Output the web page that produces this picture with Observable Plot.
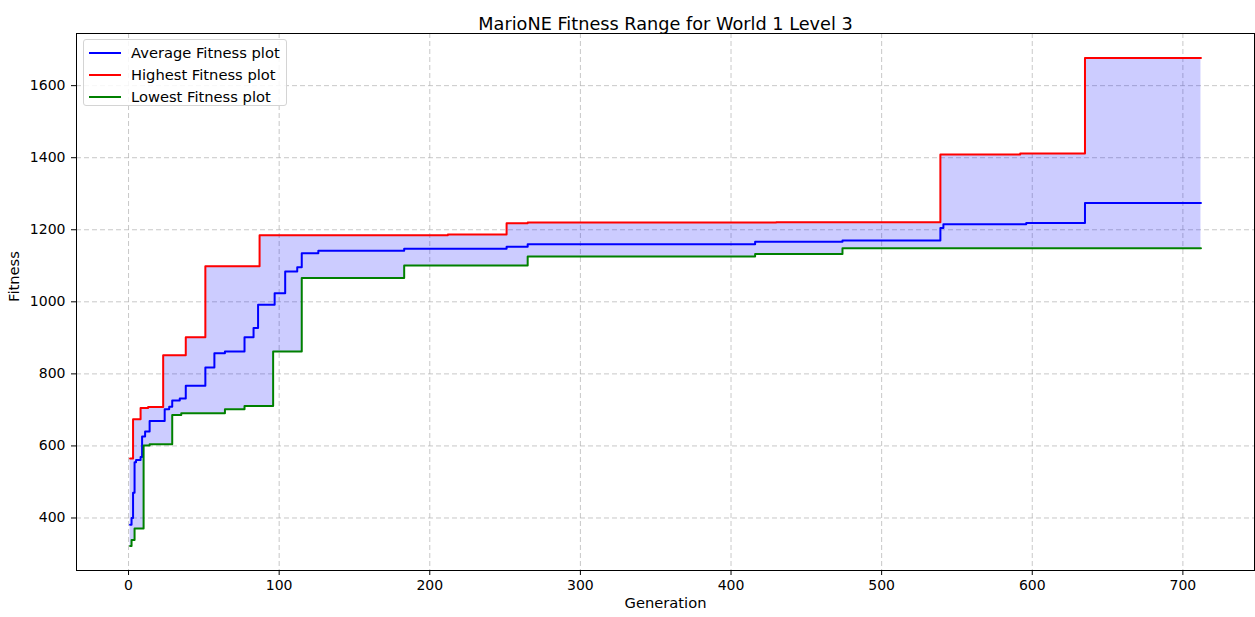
<!DOCTYPE html>
<html><head><meta charset="utf-8">
<script src="https://cdn.jsdelivr.net/npm/d3@7"></script>
<script src="https://cdn.jsdelivr.net/npm/@observablehq/plot@0.6"></script>
<style>
body{margin:0;background:#fff;font-family:"DejaVu Sans",sans-serif;}
#wrap{position:relative;width:1255px;height:617px;}
#legend{position:absolute;left:83px;top:39px;width:202px;height:65px;border:1px solid #d4d4d4;border-radius:3px;background:rgba(255,255,255,0.85);font-size:14.7px;color:#000;}
.row{position:absolute;left:0;height:18px;line-height:18px;}
.sw{position:absolute;left:5px;top:8px;width:32px;height:2px;}
.lb{position:absolute;left:47px;top:0;white-space:nowrap;}
</style></head>
<body><div id="wrap"></div>
<script>
const title = "MarioNE Fitness Range for World 1 Level 3";
const xLabel = "Generation";
const yLabel = "Fitness";
const xTicks = [0,100,200,300,400,500,600,700];
const yTicks = [400,600,800,1000,1200,1400,1600];
const seriesNames = ["Average Fitness plot","Highest Fitness plot","Lowest Fitness plot"];
const seriesColors = ["blue","red","green"];

// change points (generation where a new value starts)
const avgGen = [1,2,3,4,5,8,9,11,14,24,27,29,34,38,51,57,64,77,83,86,97,104,112,115,126,183,251,265,416,474,539,541,596,635,712];
const avgVal = [381,400,470,555,561,569,626,640,669,702,709,726,732,767,818,857,862,902,927,992,1024,1084,1096,1135,1142,1147,1153,1160,1167,1170,1205,1215,1219,1274,1274];
const maxGen = [1,3,8,13,23,38,51,87,212,251,265,430,539,592,635,712];
const maxVal = [565,674,705,708,852,902,1099,1185,1187,1218,1220,1221,1409,1412,1677,1677];
const minGen = [1,2,4,10,14,29,35,64,77,96,115,183,265,416,474,712];
const minVal = [322,339,371,601,605,686,691,702,711,862,1066,1101,1126,1133,1149,1149];

const toRows = (g,v) => g.map((x,i)=>({g:x,v:v[i]}));
const avg = toRows(avgGen, avgVal), hi = toRows(maxGen, maxVal), lo = toRows(minGen, minVal);
const stepAt = (gens, vals, x) => { let k = d3.bisectRight(gens, x) - 1; return vals[Math.max(0,k)]; };
const allGens = Array.from(new Set([...maxGen, ...minGen])).sort((a,b)=>a-b);
const band = allGens.map(x => ({g:x, lo:stepAt(minGen,minVal,x), hi:stepAt(maxGen,maxVal,x)}));

const gridStyle = {stroke:"#b0b0b0", strokeOpacity:0.7, strokeDasharray:"5,3", strokeWidth:1};
const chart = Plot.plot({
  width:1255, height:617,
  marginLeft:76, marginRight:1, marginTop:33, marginBottom:47,
  x:{domain:[-34.55,747.55]},
  y:{domain:[254.25,1744.75]},
  style:{fontFamily:"DejaVu Sans, sans-serif", fontSize:"14px", color:"black", background:"white"},
  marks:[
    Plot.gridX(xTicks, gridStyle),
    Plot.gridY(yTicks, gridStyle),
    Plot.areaY(band, {x:"g", y1:"lo", y2:"hi", fill:"blue", fillOpacity:0.2, curve:"step-after"}),
    Plot.line(avg, {x:"g", y:"v", stroke:seriesColors[0], strokeWidth:2, curve:"step-after"}),
    Plot.line(hi, {x:"g", y:"v", stroke:seriesColors[1], strokeWidth:2, curve:"step-after"}),
    Plot.line(lo, {x:"g", y:"v", stroke:seriesColors[2], strokeWidth:2, curve:"step-after"}),
    Plot.frame({stroke:"black", strokeWidth:1}),
    Plot.axisX(xTicks, {tickSize:5, tickPadding:5, fontSize:14, tickFormat:"d", label:null}),
    Plot.axisY(yTicks, {tickSize:5, tickPadding:6, fontSize:14, tickFormat:"d", label:null}),
    Plot.text([xLabel], {frameAnchor:"bottom", dy:37, fontSize:14.7}),
    Plot.text([yLabel], {frameAnchor:"left", dx:-62, rotate:-90, fontSize:14.7}),
    Plot.text([title], {frameAnchor:"top", dy:-16, fontSize:17.7})
  ]
});
const wrap = document.getElementById("wrap");
wrap.appendChild(chart);
const leg = document.createElement("div");
leg.id = "legend";
seriesNames.forEach((n,i)=>{
  const r = document.createElement("div");
  r.className = "row"; r.style.top = (4 + i*22) + "px"; r.style.width = "200px";
  const s = document.createElement("div"); s.className="sw"; s.style.background = seriesColors[i];
  const l = document.createElement("div"); l.className="lb"; l.textContent = n;
  r.appendChild(s); r.appendChild(l); leg.appendChild(r);
});
wrap.appendChild(leg);
</script></body></html>
